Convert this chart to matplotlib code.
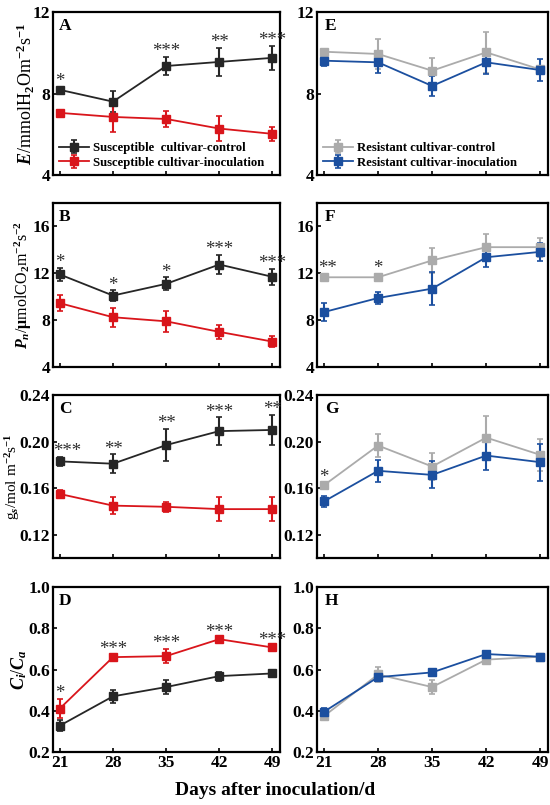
import matplotlib
matplotlib.use('Agg')
import matplotlib.pyplot as plt
import numpy as np

plt.rcParams['font.family'] = 'Liberation Serif'
plt.rcParams['font.weight'] = 'bold'
plt.rcParams['mathtext.fontset'] = 'custom'
plt.rcParams['mathtext.rm'] = 'Liberation Serif:bold'
plt.rcParams['mathtext.it'] = 'Liberation Serif:italic:bold'
plt.rcParams['mathtext.bf'] = 'Liberation Serif:bold'

days = [21, 28, 35, 42, 49]

# susceptible cultivar (left column)
sus_ctrl_E = [8.18, 7.60, 9.35, 9.55, 9.75]
sus_ctrl_E_err = [0.15, 0.50, 0.45, 0.70, 0.60]
sus_inoc_E = [7.05, 6.85, 6.75, 6.28, 6.02]
sus_inoc_E_err = [0.10, 0.75, 0.40, 0.60, 0.35]
sus_ctrl_Pn = [11.9, 10.1, 11.1, 12.75, 11.7]
sus_ctrl_Pn_err = [0.55, 0.45, 0.55, 0.85, 0.70]
sus_inoc_Pn = [9.45, 8.25, 7.9, 7.0, 6.17]
sus_inoc_Pn_err = [0.70, 0.80, 0.90, 0.60, 0.50]
sus_ctrl_gs = [0.183, 0.181, 0.197, 0.209, 0.210]
sus_ctrl_gs_err = [0.004, 0.008, 0.014, 0.012, 0.013]
sus_inoc_gs = [0.155, 0.145, 0.144, 0.142, 0.142]
sus_inoc_gs_err = [0.003, 0.007, 0.0045, 0.010, 0.0105]
sus_ctrl_ci = [0.328, 0.470, 0.515, 0.568, 0.581]
sus_ctrl_ci_err = [0.027, 0.032, 0.032, 0.022, 0.010]
sus_inoc_ci = [0.411, 0.660, 0.665, 0.747, 0.707]
sus_inoc_ci_err = [0.048, 0.015, 0.035, 0.010, 0.010]

# resistant cultivar (right column)
res_ctrl_E = [10.05, 9.94, 9.12, 10.02, 9.18]
res_ctrl_E_err = [0.10, 0.75, 0.60, 1.00, 0.10]
res_inoc_E = [9.61, 9.53, 8.37, 9.53, 9.15]
res_inoc_E_err = [0.28, 0.50, 0.50, 0.55, 0.55]
res_ctrl_Pn = [11.66, 11.66, 13.1, 14.23, 14.23]
res_ctrl_Pn_err = [0.30, 0.30, 1.05, 1.10, 0.80]
res_inoc_Pn = [8.69, 9.89, 10.69, 13.37, 13.83]
res_inoc_Pn_err = [0.80, 0.55, 1.40, 0.80, 0.75]
res_ctrl_gs = [0.1625, 0.1966, 0.1786, 0.2034, 0.1886]
res_ctrl_gs_err = [0.002, 0.010, 0.012, 0.019, 0.0137]
res_inoc_gs = [0.1486, 0.1749, 0.1714, 0.188, 0.1823]
res_inoc_gs_err = [0.005, 0.0094, 0.0115, 0.012, 0.016]
res_ctrl_ci = [0.374, 0.576, 0.515, 0.648, 0.662]
res_ctrl_ci_err = [0.020, 0.035, 0.035, 0.010, 0.010]
res_inoc_ci = [0.395, 0.563, 0.586, 0.675, 0.662]
res_inoc_ci_err = [0.020, 0.010, 0.015, 0.005, 0.008]

# significance marks
stars_A = ['*', '', '***', '**', '***']
stars_B = ['*', '*', '*', '***', '***']
stars_C = ['***', '**', '**', '***', '**']
stars_D = ['*', '***', '***', '***', '***']
stars_E = ['', '', '', '', '']
stars_F = ['**', '*', '', '', '']
stars_G = ['*', '', '', '', '']
stars_H = ['', '', '', '', '']

ylabels = [r'$E$/mmolH$_2$Om$^{-2}$s$^{-1}$',
           r'$P_n$/$\mathrm{\mu}$molCO$_2$m$^{-2}$s$^{-2}$',
           r'g$_s$/mol m$^{-2}$s$^{-1}$',
           r'$C_i$/$C_a$']
ylabel_size = [13, 11.5, 11, 13]
ylabel_x = [-0.072, -0.085, -0.135, -0.108]
ylims = [(4, 12), (4, 18), (0.10, 0.24), (0.2, 1.0)]
yticks = [[4, 8, 12], [4, 8, 12, 16], [0.12, 0.16, 0.20, 0.24],
          [0.2, 0.4, 0.6, 0.8, 1.0]]
yfmt = ['%d', '%d', '%.2f', '%.1f']

c_black = '#262626'
c_red = '#d9151b'
c_grey = '#ababab'
c_blue = '#1b4f9f'

left_data = [
    (sus_ctrl_E, sus_ctrl_E_err, sus_inoc_E, sus_inoc_E_err, stars_A, 'A'),
    (sus_ctrl_Pn, sus_ctrl_Pn_err, sus_inoc_Pn, sus_inoc_Pn_err, stars_B, 'B'),
    (sus_ctrl_gs, sus_ctrl_gs_err, sus_inoc_gs, sus_inoc_gs_err, stars_C, 'C'),
    (sus_ctrl_ci, sus_ctrl_ci_err, sus_inoc_ci, sus_inoc_ci_err, stars_D, 'D'),
]
right_data = [
    (res_ctrl_E, res_ctrl_E_err, res_inoc_E, res_inoc_E_err, stars_E, 'E'),
    (res_ctrl_Pn, res_ctrl_Pn_err, res_inoc_Pn, res_inoc_Pn_err, stars_F, 'F'),
    (res_ctrl_gs, res_ctrl_gs_err, res_inoc_gs, res_inoc_gs_err, stars_G, 'G'),
    (res_ctrl_ci, res_ctrl_ci_err, res_inoc_ci, res_inoc_ci_err, stars_H, 'H'),
]

fig = plt.figure(figsize=(5.5, 8.05), dpi=100)
bottoms = [0.7826, 0.5441, 0.3068, 0.0658]
heights = [0.2025, 0.2037, 0.2025, 0.205]
lefts = [0.0964, 0.5764]
widths = [0.4127, 0.42]


def draw(ax, d, cols, labels, row, letter_x):
    ctrl, ctrl_err, inoc, inoc_err, stars, letter = d
    for m, e, c, lab in [(ctrl, ctrl_err, cols[0], labels[0]),
                         (inoc, inoc_err, cols[1], labels[1])]:
        ax.errorbar(days, m, yerr=e, color=c, marker='s', ms=5.5, lw=1.3,
                    elinewidth=1.5, capsize=2, capthick=1.2, label=lab)
    for i, s in enumerate(stars):
        if s:
            top = max(ctrl[i] + ctrl_err[i], inoc[i] + inoc_err[i])
            # first-day marks nudged right so they clear the left spine
            dx = (len(s) - 1) * 2.8 if i == 0 else 0
            ax.annotate(s, (days[i], top), xytext=(dx, -2.5),
                        textcoords='offset points', ha='center', va='bottom',
                        fontsize=13.5, fontweight='normal', color='#2e2e2e')
    ax.set_xlim(20.1, 50)
    ax.set_ylim(*ylims[row])
    ax.set_yticks(yticks[row])
    ax.set_yticklabels([yfmt[row] % v for v in yticks[row]])
    ax.set_xticks(days)
    ax.tick_params(direction='in', length=3, width=1.2, labelsize=12.5,
                   top=False, right=False, pad=2)
    for sp in ax.spines.values():
        sp.set_linewidth(1.6)
    ax.text(letter_x, 0.915, letter, transform=ax.transAxes, fontsize=12.5,
            fontweight='bold', va='center', ha='left')
    if row < 3:
        ax.set_xticklabels([])


for row in range(4):
    axl = fig.add_axes([lefts[0], bottoms[row], widths[0], heights[row]])
    draw(axl, left_data[row], (c_black, c_red),
         ('Susceptible  cultivar-control', 'Susceptible cultivar-inoculation'),
         row, 0.026)
    axl.set_ylabel(ylabels[row], fontsize=ylabel_size[row])
    axl.yaxis.set_label_coords(ylabel_x[row], 0.5)
    axr = fig.add_axes([lefts[1], bottoms[row], widths[1], heights[row]])
    draw(axr, right_data[row], (c_grey, c_blue),
         ('Resistant cultivar-control', 'Resistant cultivar-inoculation'),
         row, 0.035)
    if row == 0:
        for ax in (axl, axr):
            ax.legend(loc='lower left', frameon=False,
                      handlelength=2.3, handletextpad=0.3, labelspacing=0.2,
                      borderaxespad=0.2, borderpad=0.3,
                      prop={'family': 'Liberation Serif', 'weight': 'bold',
                            'size': 9.2})

fig.text(0.5, 0.008, 'Days after inoculation/d', ha='center', va='bottom',
         fontsize=14, fontweight='bold')

fig.savefig('out.png', dpi=100)
